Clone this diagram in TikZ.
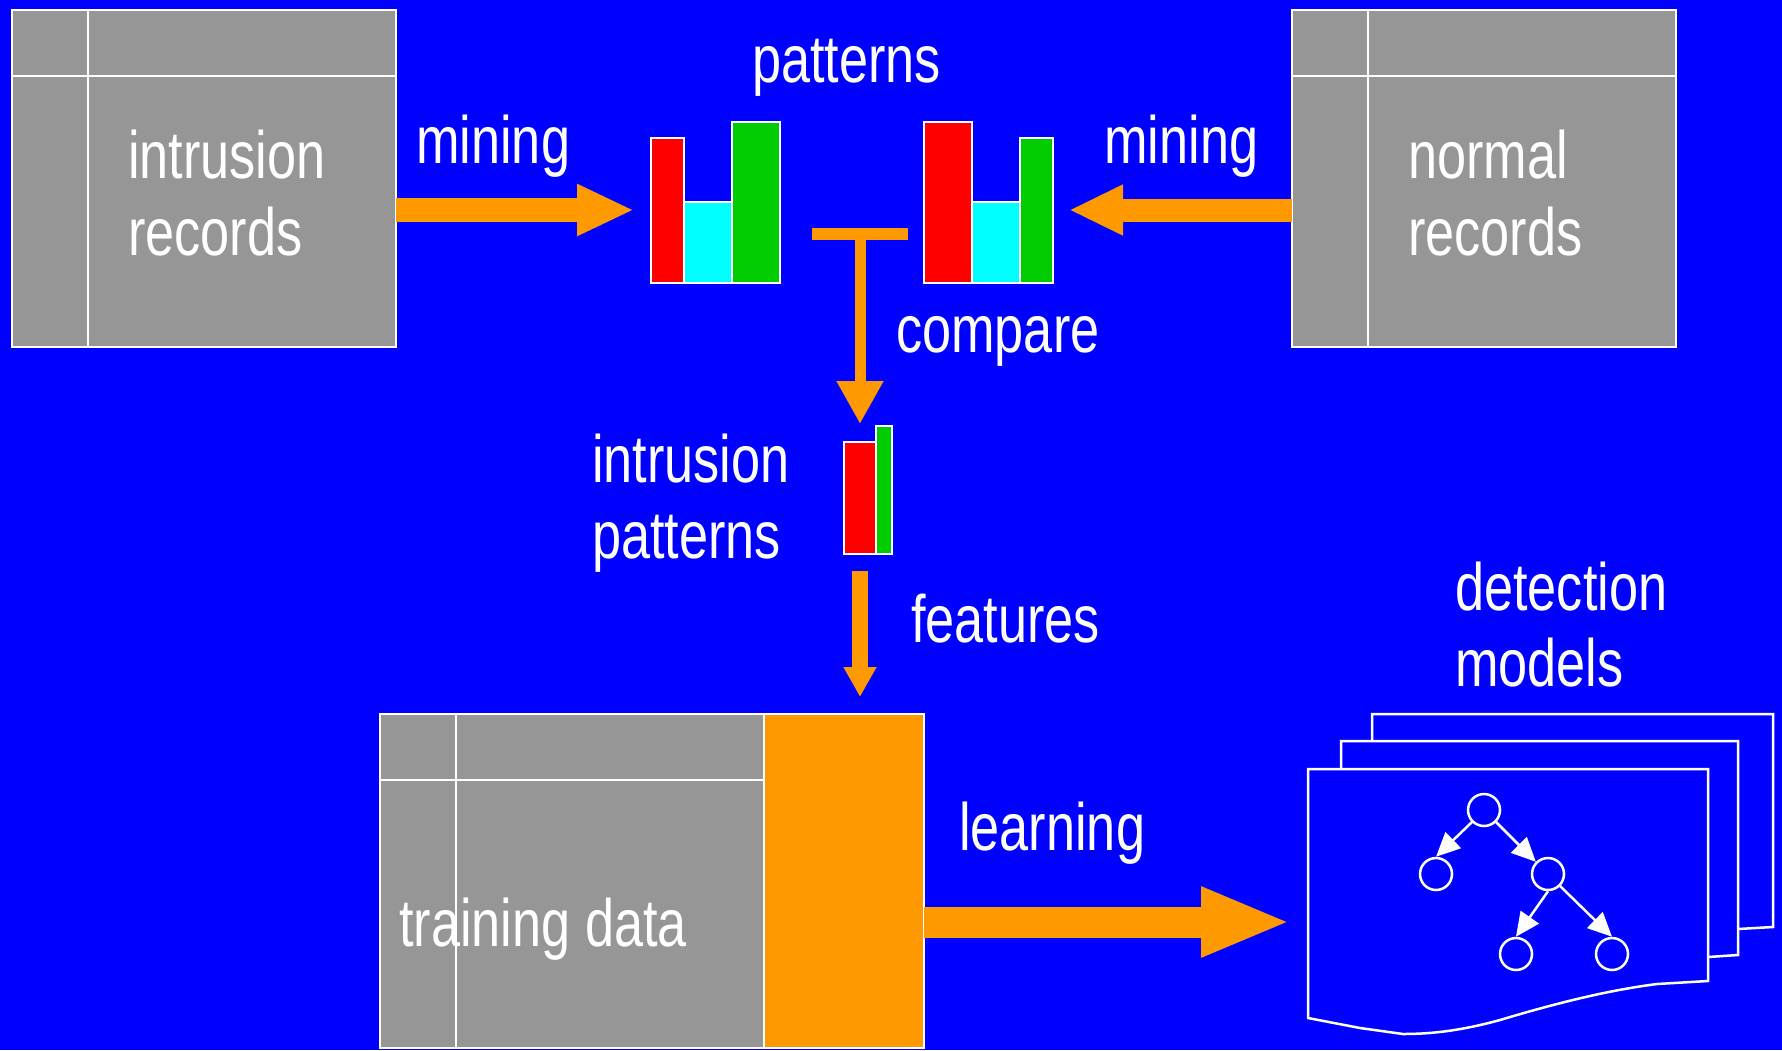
\documentclass[tikz,border=0pt]{standalone}
\usepackage{fontspec}
\newfontfamily\lbfont[FakeStretch=0.78]{Liberation Sans}
\usetikzlibrary{arrows.meta}
\definecolor{bgblue}{HTML}{0000FF}
\definecolor{recgray}{HTML}{969696}
\definecolor{arrorange}{HTML}{FF9900}
\definecolor{barred}{HTML}{FF0000}
\definecolor{barcyan}{HTML}{00FFFF}
\definecolor{bargreen}{HTML}{00CC00}
\tikzset{
  rec/.style={draw=white, line width=2pt, fill=recgray, inner sep=0pt, outer sep=0pt, anchor=north west},
  grid/.style={draw=white, line width=2pt},
  bar/.style={draw=white, line width=1.5pt},
  lbl/.style={text=white, inner sep=0pt, anchor=base west, font=\lbfont\fontsize{67}{76}\selectfont},
  fat/.style={draw=arrorange},
  sheet/.style={draw=white, line width=2.5pt, fill=bgblue, line join=miter},
  tnode/.style={circle, draw=white, line width=2.5pt, minimum size=32pt, inner sep=0pt},
  tedge/.style={draw=white, line width=2.5pt, -{Triangle[length=24pt,width=22pt]}, fill=white},
}
\begin{document}
\begin{tikzpicture}[x=1pt,y=-1pt]
\fill[bgblue] (0,0) rectangle (1782,1050);
\useasboundingbox (0,0) rectangle (1782,1050);

% intrusion records
\node[rec, minimum width=384pt, minimum height=337pt] (ir) at (12,10) {};
\draw[grid] ([xshift=76pt]ir.north west) -- ([xshift=76pt]ir.south west);
\draw[grid] ([yshift=-66pt]ir.north west) -- ([yshift=-66pt]ir.north east);
\node[lbl] (ir1) at (128,178) {intrusion};
\node[lbl] (ir2) at (128,255) {records};

% normal records
\node[rec, minimum width=384pt, minimum height=337pt] (nr) at (1292,10) {};
\draw[grid] ([xshift=76pt]nr.north west) -- ([xshift=76pt]nr.south west);
\draw[grid] ([yshift=-66pt]nr.north west) -- ([yshift=-66pt]nr.north east);
\node[lbl] (nr1) at (1408,178) {normal};
\node[lbl] (nr2) at (1408,255) {records};

% patterns
\node[lbl] (pat) at (752,82) {patterns};
\draw[bar, fill=barred] (651,138) rectangle (684,283);
\draw[bar, fill=barcyan] (684,202) rectangle (732,283);
\draw[bar, fill=bargreen] (732,122) rectangle (780,283);
\draw[bar, fill=barred] (924,122) rectangle (972,283);
\draw[bar, fill=barcyan] (972,202) rectangle (1020,283);
\draw[bar, fill=bargreen] (1020,138) rectangle (1053,283);

% mining arrows
\coordinate (hl) at (634,210);
\coordinate (hr) at (1069,210);
\node[lbl] (m1) at (416,163) {mining};
\node[lbl] (m2) at (1104,163) {mining};
\draw[fat, line width=24pt, -{Triangle[length=57pt,width=48pt]}] (ir.east |- hl) -- (hl);
\draw[fat, line width=23pt, -{Triangle[length=54pt,width=47pt]}] (nr.west |- hr) -- (hr);

% compare
\fill[arrorange] (812,228) rectangle (908,240);
\coordinate (tbar) at (860,240);
\coordinate (ipt) at (860,424);
\draw[fat, line width=11pt, -{Triangle[length=43pt,width=44pt]}] (tbar) -- (ipt);
\node[lbl] (cmp) at (896,352) {compare};

% intrusion patterns
\draw[bar, fill=barred] (844,442) rectangle (876,554);
\draw[bar, fill=bargreen] (876,426) rectangle (892,554);
\node[lbl] (ip1) at (592,482) {intrusion};
\node[lbl] (ip2) at (592,558) {patterns};

% features
\coordinate (fs) at (860,571);
\coordinate (fe) at (860,697);
\draw[fat, line width=16pt, -{Triangle[length=30pt,width=31pt]}] (fs) -- (fe);
\node[lbl] (feat) at (911,642) {features};

% training data
\node[rec, minimum width=384pt, minimum height=334pt] (td) at (380,714) {};
\node[rec, fill=arrorange, minimum width=160pt, minimum height=334pt] (tdo) at (764,714) {};
\draw[grid] ([xshift=76pt]td.north west) -- ([xshift=76pt]td.south west);
\draw[grid] ([yshift=-66pt]td.north west) -- ([yshift=-66pt]td.north east);
\node[lbl] (tdl) at (399,946) {training data};

% learning
\coordinate (dm) at (1291,922);
\draw[fat, line width=31pt, -{Triangle[length=90pt,width=64pt]}] (tdo.east |- dm) -- (dm);
\node[lbl] (lrn) at (959,850) {learning};

% detection models
\node[lbl] (dm1) at (1455,610) {detection};
\node[lbl] (dm2) at (1455,686) {models};
\draw[sheet] (1372,741) -- (1372,714) -- (1773,714) -- (1773,927) -- (1738,929);
\draw[sheet] (1341,769) -- (1341,741) -- (1738,741) -- (1738,955) -- (1708,957);
\draw[sheet] (1308,1018) -- (1308,769) -- (1708,769) -- (1708,981)
  -- (1657,984) .. controls (1610,990) and (1560,1002) .. (1500,1020)
  .. controls (1460,1031) and (1430,1034) .. (1403,1034)
  -- (1360,1028) -- cycle;

\node[tnode] (root) at (1484,810) {};
\node[tnode] (lc) at (1436,874) {};
\node[tnode] (rc) at (1548,874) {};
\node[tnode] (g1) at (1516,954) {};
\node[tnode] (g2) at (1612,954) {};
\draw[tedge] (root.225) -- (lc.north);
\draw[tedge] (root.-45) -- (rc.135);
\draw[tedge] (rc.south) -- (g1.north);
\draw[tedge] (rc.-45) -- (g2.north);
\end{tikzpicture}
\end{document}
